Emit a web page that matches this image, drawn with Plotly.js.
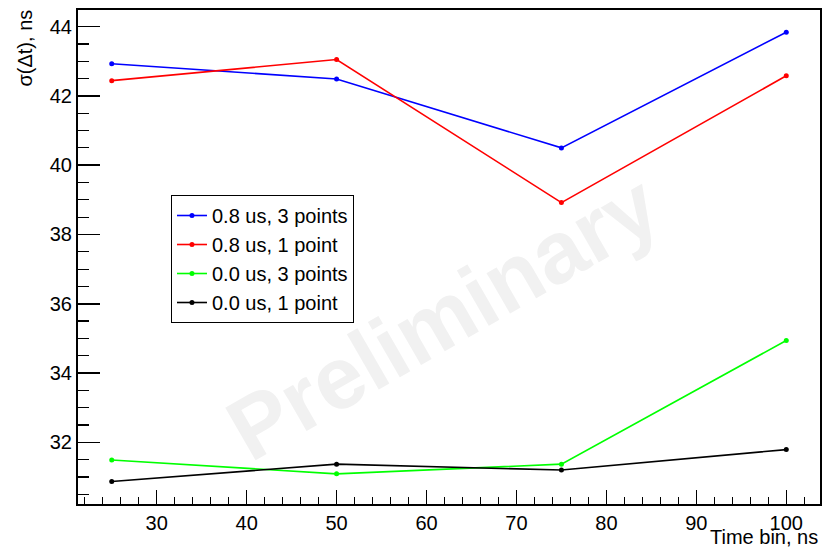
<!DOCTYPE html>
<html>
<head>
<meta charset="utf-8">
<script src="https://cdn.plot.ly/plotly-3.0.1.min.js"></script>
<style>html,body{margin:0;padding:0;background:#fff;}#chart{width:825px;height:548px;}</style>
</head>
<body>
<div id="chart"></div>
<script>
const timeBins = [25, 50, 75, 100];
const sigma08us3pts = [42.93, 42.49, 40.50, 43.84];
const sigma08us1pt  = [42.44, 43.05, 38.92, 42.58];
const sigma00us3pts = [31.49, 31.09, 31.37, 34.94];
const sigma00us1pt  = [30.87, 31.37, 31.20, 31.79];
const seriesNames = ["0.8 us, 3 points", "0.8 us, 1 point", "0.0 us, 3 points", "0.0 us, 1 point"];
const seriesColors = ["#0000ff", "#ff0000", "#00ff00", "#000000"];
const seriesValues = [sigma08us3pts, sigma08us1pt, sigma00us3pts, sigma00us1pt];

const FONT = "Liberation Sans, Arial, Helvetica, sans-serif";

const traces = seriesValues.map((vals, i) => ({
  x: timeBins,
  y: vals,
  type: "scatter",
  mode: "lines+markers",
  name: seriesNames[i],
  legendgroup: "g" + i,
  line: {color: seriesColors[i], width: 1.6},
  marker: {color: seriesColors[i], size: 5, symbol: "circle"}
}));

const layout = {
  width: 825,
  height: 548,
  margin: {l: 78, r: 5, t: 10, b: 44},
  paper_bgcolor: "#ffffff",
  plot_bgcolor: "#ffffff",
  font: {family: FONT, size: 20, color: "#000"},
  showlegend: true,
  legend: {
    x: 0.1253, y: 0.6255, xanchor: "left", yanchor: "top",
    bgcolor: "#ffffff", bordercolor: "#000", borderwidth: 1,
    font: {family: FONT, size: 20, color: "#000"},
    traceorder: "grouped", tracegroupgap: 0
  },
  xaxis: {
    range: [21.25, 103.75],
    showgrid: false, zeroline: false,
    showline: true, mirror: true, linecolor: "#000", linewidth: 2,
    ticks: "inside", ticklen: 14, tickwidth: 1.5, tickcolor: "#000",
    dtick: 10, tick0: 0,
    minor: {dtick: 2, tick0: 0, ticks: "inside", ticklen: 7, tickwidth: 1.2, tickcolor: "#000", showgrid: false},
    tickfont: {family: FONT, size: 20, color: "#000"}
  },
  yaxis: {
    range: [30.22, 44.48],
    showgrid: false, zeroline: false,
    showline: true, mirror: true, linecolor: "#000", linewidth: 2,
    ticks: "inside", ticklen: 22, tickwidth: 1.5, tickcolor: "#000",
    dtick: 2, tick0: 0,
    minor: {dtick: 0.5, tick0: 0, ticks: "inside", ticklen: 11, tickwidth: 1.2, tickcolor: "#000", showgrid: false},
    tickfont: {family: FONT, size: 20, color: "#000"}
  },
  annotations: [
    {
      text: "Preliminary", xref: "paper", yref: "paper",
      x: 0.4906, y: 0.3785, xanchor: "center", yanchor: "middle",
      textangle: -30, showarrow: false,
      font: {family: FONT, size: 88, color: "#f1f1f1", weight: "bold"}
    },
    {
      text: "Time bin, ns", xref: "paper", yref: "paper",
      x: 0.998, y: -0.0658, xanchor: "right", yanchor: "middle",
      showarrow: false, borderpad: 0, font: {family: FONT, size: 20, color: "#000"}
    },
    {
      text: "σ(Δt), ns", xref: "paper", yref: "paper",
      x: -0.0714, y: 1.004, xanchor: "center", yanchor: "top",
      textangle: -90, showarrow: false, font: {family: FONT, size: 20, color: "#000"}
    }
  ]
};

Plotly.newPlot("chart", traces, layout, {displayModeBar: false, staticPlot: true});
</script>
</body>
</html>
